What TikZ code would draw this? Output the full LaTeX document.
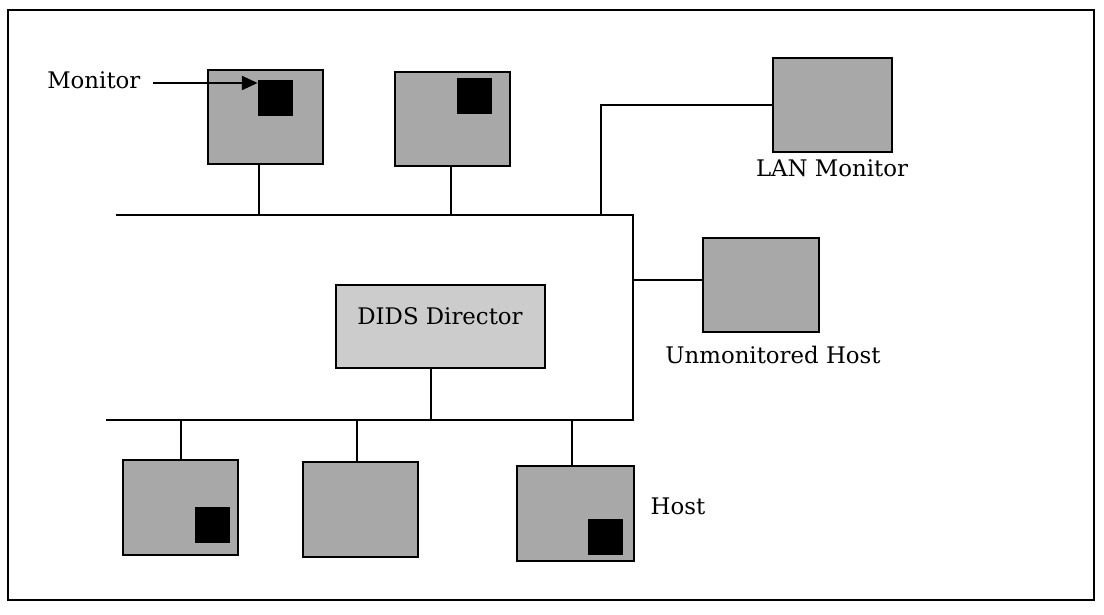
\documentclass[tikz,border=0pt]{standalone}
\usepackage{fontspec}
\setmainfont{DejaVu Serif}
\usetikzlibrary{arrows.meta}
\definecolor{hostgray}{gray}{0.66}
\definecolor{dirgray}{gray}{0.80}
\begin{document}
\begin{tikzpicture}[x=0.2mm,y=-0.2mm,
  every node/.style={font=\fontsize{13}{15}\selectfont},
  host/.style={draw=black,fill=hostgray,line width=1.6pt,inner sep=0pt,minimum width=23mm,minimum height=18.8mm},
  dirbox/.style={draw=black,fill=dirgray,line width=1.4pt,inner sep=0pt,minimum width=41.8mm,minimum height=16.6mm},
  mon/.style={fill=black,draw=none,inner sep=0pt,minimum width=7mm,minimum height=7.2mm},
  wire/.style={line width=1.1pt},
  txt/.style={inner sep=0pt}]
\useasboundingbox (0,0) rectangle (1104,614);
\draw[line width=1pt] (8,10) rectangle (1094,600);
% hosts
\node[host] (m1) at (265.5,117) {};
\node[host] (m2) at (452.5,119) {};
\node[host,minimum width=23.8mm] (lan) at (832.5,105) {};
\node[host,minimum width=23.2mm] (uh) at (761,285) {};
\node[host,minimum height=19mm] (b1) at (180.5,507.5) {};
\node[host,minimum height=19mm] (b2) at (360.5,509.5) {};
\node[host,minimum width=23.4mm,minimum height=19mm] (b3) at (575.5,513.5) {};
\node[dirbox] (dir) at (440.5,326.5) {};
\node[txt] (dirtxt) at (440,316) {DIDS Director};
% monitor squares
\node[mon] (s1) at (275.5,98) {};
\node[mon] (s2) at (474.5,96) {};
\node[mon] (s3) at (212,525) {};
\node[mon] (s4) at (605,537) {};
% buses
\coordinate (tbL) at (116,215);
\coordinate (tbR) at (633,215);
\coordinate (bbL) at (106,420);
\coordinate (bbR) at (633,420);
\coordinate (lanJ) at (601,215);
\coordinate (uhJ) at (633,280);
\coordinate (t1) at (259,215);
\coordinate (t2) at (451,215);
\coordinate (d1) at (431,420);
\coordinate (u1) at (181,420);
\coordinate (u2) at (357,420);
\coordinate (u3) at (572,420);
\draw[wire] (tbL) -- (tbR) -- (bbR) -- (bbL);
\draw[wire] (t1) -- (t1 |- m1.south);
\draw[wire] (t2) -- (t2 |- m2.south);
\draw[wire] (lanJ) |- (lan.west);
\draw[wire] (uhJ) -- (uhJ -| uh.west);
\draw[wire] (d1) -- (d1 |- dir.south);
\draw[wire] (u1) -- (u1 |- b1.north);
\draw[wire] (u2) -- (u2 |- b2.north);
\draw[wire] (u3) -- (u3 |- b3.north);
% labels
\node[txt,anchor=west] (mlab) at (47,80) {Monitor};
\coordinate (mstart) at (153,83);
\draw[wire,-{Triangle[length=9pt,width=8pt]}] (mstart) -- (mstart -| s1.west);
\node[txt] (lanlab) at (832,168) {LAN Monitor};
\node[txt] (uhlab) at (773,355) {Unmonitored Host};
\node[txt] (hlab) at (678,506) {Host};
\end{tikzpicture}
\end{document}
